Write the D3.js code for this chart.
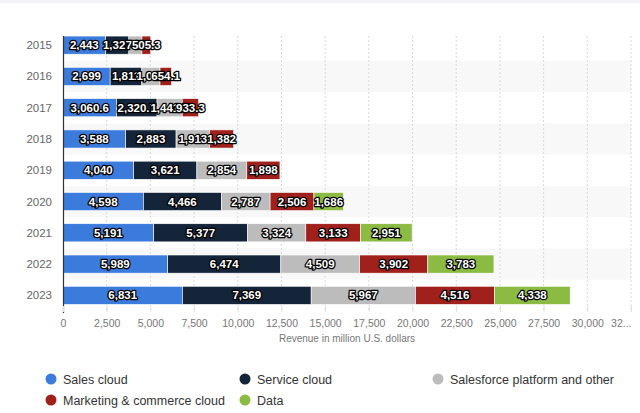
<!DOCTYPE html>
<html><head><meta charset="utf-8">
<script src="https://cdn.jsdelivr.net/npm/d3@7"></script>
<style>
body{margin:0;background:#fff;}
svg{display:block;font-family:"Liberation Sans",Arial,sans-serif;}
</style></head><body>
<svg id="c" width="640" height="413"></svg>
<script>
const years = ["2015","2016","2017","2018","2019","2020","2021","2022","2023"];
const seriesNames = ["Sales cloud","Service cloud","Salesforce platform and other","Marketing & commerce cloud","Data"];
const salesCloud =    [2443, 2699, 3060.6, 3588, 4040, 4598, 5191, 5989, 6831];
const serviceCloud =  [1327, 1811, 2320.7, 2883, 3621, 4466, 5377, 6474, 7369];
const platformOther = [745, 1041, 1441.7, 1913, 2854, 2787, 3324, 4509, 5967];
const marketing =     [505.3, 654.1, 933.3, 1382, 1898, 2506, 3133, 3902, 4516];
const dataCloud =     [0, 0, 0, 0, 0, 1686, 2951, 3783, 4338];
const xTicks = [0,2500,5000,7500,10000,12500,15000,17500,20000,22500,25000,27500,30000,32500];
const colors = ["#3b7bdc","#14253a","#bcbcbc","#a0201b","#8cbb43"];

const seriesVals = [salesCloud, serviceCloud, platformOther, marketing, dataCloud];
const rows = years.map((y,i)=>{const o={year:y}; seriesNames.forEach((s,j)=>o[s]=seriesVals[j][i]); return o;});
const stack = d3.stack().keys(seriesNames)(rows);

const svg = d3.select("#c");
svg.append("rect").attr("x",0).attr("y",0).attr("width",640).attr("height",3).attr("fill","#f2f4f7");

const x = d3.scaleLinear().domain([0,32500]).range([63,631]);
const y = d3.scaleBand().domain(years).range([29.5,311]).paddingInner(0.42).paddingOuter(0.21);
const yb = d3.scaleBand().domain(years).range([29.5,311]);

// alternating bands
svg.append("g").selectAll("rect").data(years.filter((d,i)=>i%2===1)).join("rect")
  .attr("x",63).attr("width",631-63).attr("y",d=>yb(d)).attr("height",yb.bandwidth()).attr("fill","#f8f8f8");

// gridlines
svg.append("g").selectAll("line").data(xTicks.slice(1)).join("line")
  .attr("x1",d=>x(d)).attr("x2",d=>x(d)).attr("y1",36).attr("y2",311)
  .attr("stroke","#d9d9d9").attr("stroke-dasharray","2,2").attr("stroke-width",1);

// bars
const g = svg.append("g");
stack.forEach((layer,j)=>{
  g.append("g").selectAll("rect").data(layer.filter(d=>d[1]-d[0]>0)).join("rect")
    .attr("x",d=>x(d[0])).attr("width",d=>x(d[1])-x(d[0]))
    .attr("y",d=>y(d.data.year)).attr("height",y.bandwidth())
    .attr("fill",colors[j]).attr("stroke","#fff").attr("stroke-width",0.6);
});
// labels
const fmt = v => (Math.round(v)===v ? d3.format(",")(v) : d3.format(",.1f")(v));
stack.forEach((layer,j)=>{
  g.append("g").selectAll("text").data(layer.filter(d=>d[1]-d[0]>0)).join("text")
    .attr("x",d=>(x(d[0])+x(d[1]))/2).attr("y",d=>y(d.data.year)+y.bandwidth()/2+4)
    .attr("text-anchor","middle").attr("font-size",11.5).attr("font-weight","bold")
    .attr("fill","#fff").attr("stroke","#000").attr("stroke-width",2.6).attr("stroke-linejoin","round")
    .attr("paint-order","stroke")
    .text(d=>fmt(d[1]-d[0]));
});

// y axis line + labels
svg.append("line").attr("x1",63.5).attr("x2",63.5).attr("y1",36).attr("y2",313).attr("stroke","#333").attr("stroke-width",1.2);
svg.append("g").selectAll("text").data(years).join("text")
  .attr("x",52).attr("y",d=>y(d)+y.bandwidth()/2+4).attr("text-anchor","end")
  .attr("font-size",11.5).attr("fill","#666").text(d=>d);

// x axis
const xa = d3.axisBottom(x).tickValues(xTicks).tickSize(6).tickPadding(8)
  .tickFormat(d=> d===32500 ? "32..." : d3.format(",")(d));
const ax = svg.append("g").attr("transform","translate(0,306)").call(xa);
ax.select(".domain").remove();
ax.selectAll(".tick line").attr("stroke","#e0e0e0");
ax.selectAll(".tick text").attr("fill","#777").attr("font-size",10.5).attr("font-family","Liberation Sans, Arial, sans-serif");
ax.selectAll(".tick text").filter(d=>d===32500).attr("text-anchor","end").attr("dx",0);
svg.append("text").attr("x",347).attr("y",342).attr("text-anchor","middle").attr("font-size",10).attr("fill","#777")
  .text("Revenue in million U.S. dollars");

// legend
const legPos = [[51,379],[245,379],[438,379],[51,400],[245,400]];
const lg = svg.append("g").selectAll("g").data(seriesNames).join("g")
  .attr("transform",(d,i)=>`translate(${legPos[i][0]},${legPos[i][1]})`);
lg.append("circle").attr("r",5.5).attr("fill",(d,i)=>colors[i]);
lg.append("text").attr("x",12).attr("y",4.5).attr("font-size",12.5).attr("fill","#333").text(d=>d);
</script></body></html>
